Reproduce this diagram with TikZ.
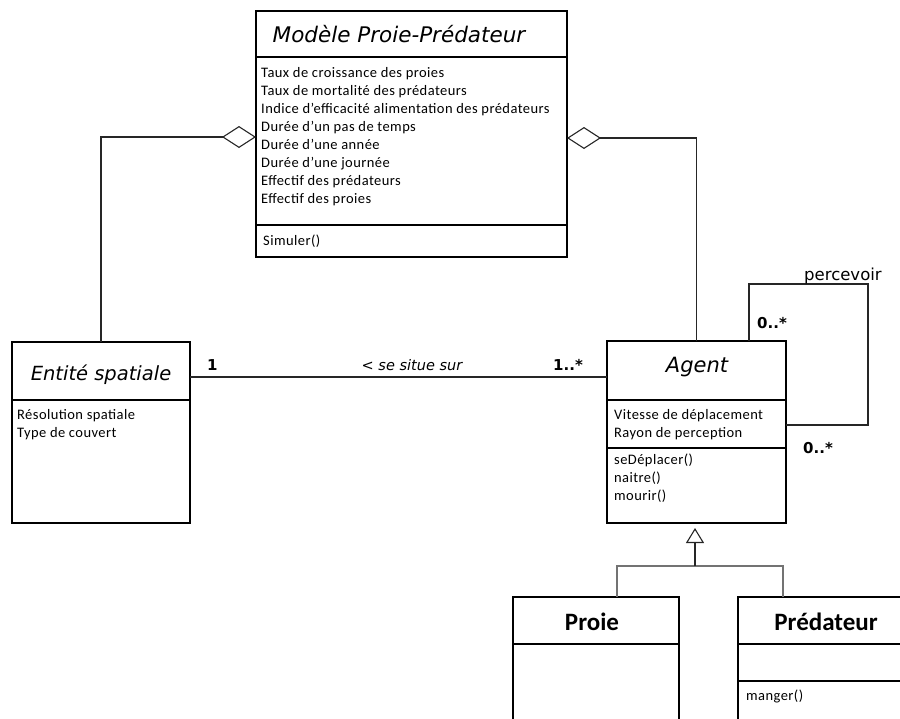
\documentclass[tikz,border=0pt]{standalone}
\usepackage{fontspec}
\setmainfont{Carlito}
\newfontfamily\headfont{DejaVu Sans}
\newfontfamily\attrfont{Carlito}[LetterSpace=3]
\usetikzlibrary{arrows.meta,positioning}

\tikzset{
  classbox/.style={draw, line width=2pt, anchor=north west, inner sep=0pt, outer sep=0pt},
  divider/.style={line width=1.2pt},
  attr/.style={anchor=base west, inner sep=0pt, font=\attrfont\fontsize{14.5}{18}\selectfont},
  classname/.style={anchor=base, inner sep=0pt, font=\headfont\itshape\fontsize{21}{24}\selectfont},
  plainname/.style={anchor=base, inner sep=0pt, font=\bfseries\fontsize{25}{28}\selectfont},
  mult/.style={anchor=base west, inner sep=0pt, font=\headfont\bfseries\fontsize{15}{18}\selectfont},
  link/.style={line width=1.1pt, draw=black!85},
  aggr/.style={link, -{Diamond[open, length=34pt, width=22pt]}},
  inherit/.style={line width=1.5pt, draw=black!55},
}

\begin{document}
\begin{tikzpicture}[x=1pt, y=-1pt]
  \useasboundingbox (0,0) rectangle (900,718);
  \clip (0,0) rectangle (900,718);

  % classes
  \node[classbox, minimum width=311pt, minimum height=246pt] (modele) at (256,11) {};
  \node[classbox, minimum width=178pt, minimum height=181pt] (entite) at (12,342) {};
  \node[classbox, minimum width=179pt, minimum height=182pt] (agent) at (607,341) {};
  \node[classbox, minimum width=166pt, minimum height=140pt] (proie) at (513,597) {};
  \node[classbox, minimum width=176pt, minimum height=140pt] (predateur) at (738,597) {};

  \draw[divider] ([yshift=-46pt]modele.north west) -- ([yshift=-46pt]modele.north east);
  \draw[divider] ([yshift=-214pt]modele.north west) -- ([yshift=-214pt]modele.north east);
  \draw[divider] ([yshift=-58pt]entite.north west) -- ([yshift=-58pt]entite.north east);
  \draw[divider] ([yshift=-59pt]agent.north west) -- ([yshift=-59pt]agent.north east);
  \draw[divider] ([yshift=-107pt]agent.north west) -- ([yshift=-107pt]agent.north east);
  \draw[divider] ([yshift=-47pt]proie.north west) -- ([yshift=-47pt]proie.north east);
  \draw[divider] ([yshift=-47pt]predateur.north west) -- ([yshift=-47pt]predateur.north east);
  \draw[divider] ([yshift=-84pt]predateur.north west) -- ([yshift=-84pt]predateur.north east);

  % names
  \node[classname, font=\headfont\itshape\fontsize{21.5}{24}\selectfont] (modeletitle) at (399,42) {Modèle Proie-Prédateur};
  \node[classname, font=\headfont\itshape\fontsize{19.5}{24}\selectfont] (entitetitle) at (101,380) {Entité spatiale};
  \node[classname] (agenttitle) at (697,372) {Agent};
  \node[plainname] (proietitle) at (592,630) {Proie};
  \node[plainname] (predateurtitle) at (826,630) {Prédateur};

  % attributes and methods
  \foreach \txt [count=\i] in {Taux de croissance des proies, Taux de mortalité des prédateurs,
      Indice d’efficacité alimentation des prédateurs, Durée d’un pas de temps,
      Durée d’une année, Durée d’une journée, Effectif des prédateurs, Effectif des proies}
    \node[attr] (modattr\i) at (261,59+18*\i) {\txt};
  \node[attr] (simuler) at (263,245) {Simuler()};

  \node[attr] (entattr1) at (17,419) {Résolution spatiale};
  \node[attr] (entattr2) at (17,437) {Type de couvert};

  \node[attr] (agattr1) at (614,419) {Vitesse de déplacement};
  \node[attr] (agattr2) at (614,437) {Rayon de perception};
  \foreach \txt [count=\i] in {seDéplacer(), naitre(), mourir()}
    \node[attr] (agmeth\i) at (614,446+18*\i) {\txt};

  \node[attr] (manger) at (746,700) {manger()};

  % aggregations
  \draw[aggr] (entite.north) |- ([yshift=-126pt]modele.north west);
  \draw[aggr] (agent.north) |- ([yshift=-127pt]modele.north east);

  % association
  \draw[link] ([yshift=-35pt]entite.north east) -- ([yshift=-36pt]agent.north west);
  \node[mult] (multun) at (207,370) {1};
  \node[anchor=base, inner sep=0pt, font=\headfont\itshape\fontsize{14.5}{16}\selectfont] (situe) at (412,370) {< se situe sur};
  \node[mult] (multplus) at (553,370) {1..*};

  % percevoir
  \coordinate (loopcorner) at (868,284);
  \draw[link] ([xshift=142pt]agent.north west) |- (loopcorner) |- ([yshift=-84pt]agent.north east);
  \node[anchor=base west, inner sep=0pt, font=\headfont\fontsize{16.5}{18}\selectfont] (percevoir) at (804,280) {percevoir};
  \node[mult] (multhaut) at (757,328) {0..*};
  \node[mult] (multbas) at (803,453) {0..*};

  % generalisation
  \coordinate (genjoint) at (695,566);
  \draw[inherit] ([xshift=104pt]proie.north west) |- (genjoint) -| ([xshift=45pt]predateur.north west);
  \draw[link, shorten >=5pt, -{Triangle[open, length=15pt, width=18pt]}] (genjoint) -- (genjoint |- agent.south);
\end{tikzpicture}
\end{document}
